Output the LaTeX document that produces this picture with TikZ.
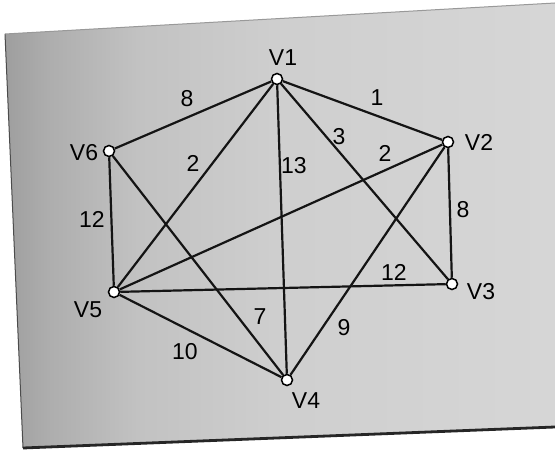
\documentclass[tikz,border=0pt]{standalone}
\usepackage{fontspec}
\setmainfont{Liberation Sans}
\pgfdeclarehorizontalshading{paper}{100bp}{color(0bp)=(black!38); color(25bp)=(black!38); color(29bp)=(black!32); color(37bp)=(black!24); color(50bp)=(black!19); color(75bp)=(black!16); color(100bp)=(black!16)}
\begin{document}
\begin{tikzpicture}[x=1pt,y=-1pt,
  vtx/.style={circle,draw=black,fill=white,line width=1.5pt,minimum size=11pt,inner sep=0pt},
  edg/.style={line width=2.2pt,black!92},
  lab/.style={font=\fontsize{23}{23}\selectfont,inner sep=0pt,text=black}]
\useasboundingbox (0,0) rectangle (555,452);
\fill[white] (0,0) rectangle (555,452);
\shade[shading=paper] (5,34) -- (555,3) -- (555,427) -- (23,448) -- cycle;
\draw[line width=1pt,black!70] (5,34) -- (23,448);
\draw[line width=1pt,black!40] (5,34) -- (555,3);
\draw[line width=2.8pt,black!85] (23,448) -- (555,427);
% vertices
\node[vtx] (v1) at (277,79) {};
\node[vtx] (v2) at (448,142) {};
\node[vtx] (v3) at (452,284) {};
\node[vtx] (v4) at (287,380) {};
\node[vtx] (v5) at (114,292) {};
\node[vtx] (v6) at (109,151) {};
% edges
\draw[edg] (v6) -- (v1);
\draw[edg] (v1) -- (v2);
\draw[edg] (v1) -- (v5);
\draw[edg] (v1) -- (v4);
\draw[edg] (v1) -- (v3);
\draw[edg] (v2) -- (v5);
\draw[edg] (v2) -- (v3);
\draw[edg] (v2) -- (v4);
\draw[edg] (v5) -- (v3);
\draw[edg] (v5) -- (v4);
\draw[edg] (v6) -- (v5);
\draw[edg] (v6) -- (v4);
% vertex labels
\node[lab] (l1) at (283,58) {V1};
\node[lab] (l2) at (479,142) {V2};
\node[lab] (l3) at (481,292) {V3};
\node[lab] (l4) at (306,401) {V4};
\node[lab] (l5) at (88,310) {V5};
\node[lab] (l6) at (84,153) {V6};
% edge weights
\node[lab] (w61) at (187,99) {8};
\node[lab] (w12) at (377,98) {1};
\node[lab] (w15) at (193,163) {2};
\node[lab] (w14) at (294,166) {13};
\node[lab] (w13) at (339,137) {3};
\node[lab] (w25) at (385,153) {2};
\node[lab] (w23) at (463,210) {8};
\node[lab] (w65) at (92,219) {12};
\node[lab] (w53) at (394,272) {12};
\node[lab] (w64) at (260,317) {7};
\node[lab] (w54) at (185,352) {10};
\node[lab] (w24) at (344,328) {9};
\end{tikzpicture}
\end{document}
